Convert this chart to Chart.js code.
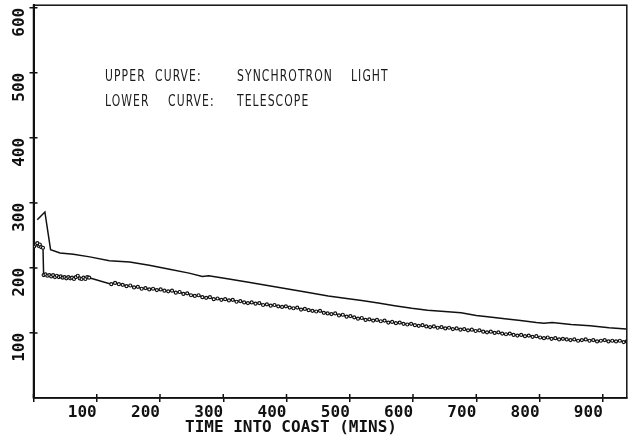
<!DOCTYPE html>
<html>
<head>
<meta charset="utf-8">
<script src="https://cdn.jsdelivr.net/npm/chart.js@4.4.1/dist/chart.umd.min.js"></script>
<style>
    html, body { margin: 0; padding: 0; background: #fff; }
    #wrap { width: 632px; height: 435px; }
</style>
</head>
<body>
<div id="wrap"><canvas id="coastChart" width="632" height="435"></canvas></div>
<script>
// Upper curve: synchrotron light
const upperTimes = [6, 18, 27, 42, 63, 89, 120, 152, 183, 215, 246, 267, 277, 309, 340, 370, 400, 430, 466, 495,
    519, 545, 571, 598, 623, 650, 676, 700, 718, 745, 770, 795, 807, 820, 850, 880, 910, 937];
const upperSignal = [274, 286, 228, 223, 221, 217, 211, 209, 204, 198, 192, 187, 188, 183, 178, 173, 168, 163, 157, 153,
    150, 146, 142, 138, 135, 133, 131, 127, 125, 122, 119, 116, 115, 116, 113, 111, 108, 106];

// Lower curve: telescope
const lowerTimes = [1, 4, 6, 8, 10, 12, 15, 16, 19, 22, 25, 28, 31, 34, 37, 40, 43, 46, 49, 52, 55, 58, 61, 64, 67, 70,
    73, 76, 79, 82, 85, 88,
    123, 129, 135, 141, 147, 153, 159, 165, 171, 177, 183, 189, 195, 201, 207, 213, 219, 225, 231, 237, 243, 249,
    255, 261, 267, 273, 279, 285, 291, 297, 303, 309, 315, 321, 327, 333, 339, 345, 351, 357, 363, 369, 375, 381,
    387, 393, 399, 405, 411, 417, 423, 429, 435, 441, 447, 453, 459, 465, 471, 477, 483, 489, 495, 501, 507, 513,
    519, 525, 531, 537, 543, 549, 555, 561, 567, 573, 579, 585, 591, 597, 603, 609, 615, 621, 627, 633, 639, 645,
    651, 657, 663, 669, 675, 681, 687, 693, 699, 705, 711, 717, 723, 729, 735, 741, 747, 753, 759, 765, 771, 777,
    783, 789, 795, 801, 807, 813, 819, 825, 831, 837, 843, 849, 855, 861, 867, 873, 879, 885, 891, 897, 903, 909,
    915, 921, 927, 933, 938];
const lowerSignal = [233, 236, 238, 234, 236, 232, 231, 189, 190, 188, 189, 187, 189, 186, 188, 186, 187, 185, 186, 184,
    186, 184, 185, 183, 186, 188, 184, 183, 185, 183, 186, 185,
    175, 177, 175, 174, 172, 173, 170, 171, 168, 169, 167, 168, 166, 167, 165, 164, 165, 162, 163, 160, 161, 158,
    157, 158, 155, 154, 155, 152, 153, 151, 152, 150, 151, 148, 149, 147, 146, 147, 145, 146, 143, 144, 142, 143,
    141, 140, 141, 139, 138, 139, 136, 137, 135, 134, 133, 134, 131, 130, 129, 130, 127, 128, 125, 126, 124, 122,
    123, 120, 121, 119, 120, 118, 119, 116, 117, 115, 116, 114, 113, 114, 112, 111, 112, 110, 109, 110, 108, 109,
    107, 108, 106, 107, 105, 106, 104, 105, 103, 104, 102, 101, 102, 100, 101, 99, 98, 99, 97, 96, 97, 95,
    96, 94, 95, 93, 92, 93, 91, 92, 90, 91, 90, 89, 90, 88, 89, 90, 88, 89, 87, 88, 89, 87,
    88, 87, 88, 86, 87];

// Axis ticks
const xTicks = [0, 100, 200, 300, 400, 500, 600, 700, 800, 900];
const yTicks = [100, 200, 300, 400, 500, 600];

const ink = '#111';
const tickFont = { family: 'DejaVu Sans Mono', size: 16, weight: 'bold' };

function pairs(xs, ys) {
    return xs.map((x, i) => ({ x: x, y: ys[i] }));
}

// box around the plot, inner half of the tick crosses, and the text
const plotDecor = {
    id: 'plotDecor',
    afterDraw(chart) {
        const ctx = chart.ctx;
        const a = chart.chartArea;
        const xs = chart.scales.x;
        const ys = chart.scales.y;
        ctx.save();
        ctx.strokeStyle = ink;
        ctx.lineWidth = 1.5;
        ctx.strokeRect(a.left, a.top, a.right - a.left, a.bottom - a.top);

        ctx.beginPath();
        xs.ticks.forEach(t => {
            const px = xs.getPixelForValue(t.value);
            ctx.moveTo(px, a.bottom);
            ctx.lineTo(px, a.bottom - 4);
        });
        ys.ticks.forEach(t => {
            const py = ys.getPixelForValue(t.value);
            ctx.moveTo(a.left, py);
            ctx.lineTo(a.left + 4, py);
        });
        ctx.stroke();

        // axis title
        ctx.fillStyle = ink;
        ctx.font = 'bold 16px "DejaVu Sans Mono"';
        ctx.textAlign = 'center';
        ctx.textBaseline = 'alphabetic';
        ctx.fillText('TIME INTO COAST (MINS)', 291, 432);

        // curve labels, narrow spaced lettering
        ctx.font = '16.5px "Liberation Sans Narrow", "DejaVu Sans Condensed", sans-serif';
        ctx.textAlign = 'left';
        ctx.fillStyle = '#1a1a1a';
        ctx.letterSpacing = '1.5px';
        const squeeze = 96 / ctx.measureText('SYNCHROTRON').width;
        const lines = [
            { y: 81, words: [['UPPER', 105], ['CURVE:', 155], ['SYNCHROTRON', 237], ['LIGHT', 351]] },
            { y: 106, words: [['LOWER', 105], ['CURVE:', 168], ['TELESCOPE', 237]] }
        ];
        lines.forEach(line => {
            line.words.forEach(([w, x]) => {
                ctx.save();
                ctx.translate(x, line.y);
                ctx.scale(squeeze, 1);
                ctx.fillText(w, 0, 0);
                ctx.restore();
            });
        });
        ctx.restore();
    }
};

new Chart(document.getElementById('coastChart'), {
    type: 'line',
    data: {
        datasets: [{
            label: 'Synchrotron light',
            data: pairs(upperTimes, upperSignal),
            borderColor: ink,
            borderWidth: 1.5,
            pointRadius: 0,
            tension: 0,
            fill: false
        }, {
            label: 'Telescope',
            data: pairs(lowerTimes, lowerSignal),
            borderColor: ink,
            borderWidth: 1.5,
            pointRadius: 1.5,
            pointBorderWidth: 1.2,
            pointBorderColor: ink,
            pointBackgroundColor: '#fff',
            tension: 0,
            fill: false
        }]
    },
    options: {
        responsive: false,
        animation: false,
        devicePixelRatio: 1,
        layout: { padding: { top: 5, right: 2, left: 0, bottom: 0 } },
        plugins: {
            legend: { display: false },
            tooltip: { enabled: false }
        },
        scales: {
            x: {
                type: 'linear',
                min: 0,
                max: 938,
                afterBuildTicks: s => { s.ticks = xTicks.map(v => ({ value: v })); },
                afterFit: s => { s.height = 37; s.paddingLeft = 0; s.paddingRight = 0; },
                grid: { drawOnChartArea: false, tickLength: 4, color: ink, lineWidth: 1.5 },
                border: { color: ink, width: 1.5 },
                ticks: {
                    align: 'end',
                    padding: 1,
                    color: ink,
                    font: tickFont,
                    maxRotation: 0,
                    autoSkip: false,
                    callback: v => (v === 0 ? '' : String(v))
                }
            },
            y: {
                min: 0,
                max: 604,
                afterBuildTicks: s => { s.ticks = yTicks.map(v => ({ value: v })); },
                afterFit: s => { s.width = 33.5; s.paddingTop = 0; s.paddingBottom = 0; },
                grid: { drawOnChartArea: false, tickLength: 4, color: ink, lineWidth: 1.5 },
                border: { color: ink, width: 2 },
                ticks: {
                    minRotation: 90,
                    maxRotation: 90,
                    padding: 10,
                    color: ink,
                    font: tickFont,
                    autoSkip: false
                }
            }
        }
    },
    plugins: [plotDecor]
});
</script>
</body>
</html>
